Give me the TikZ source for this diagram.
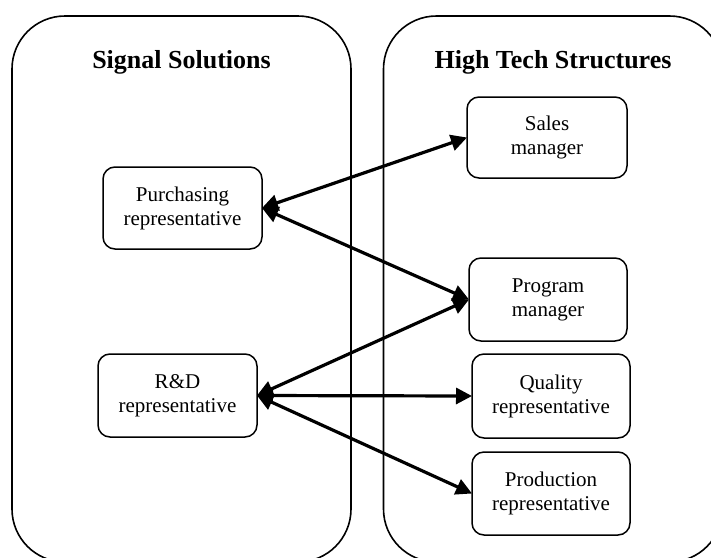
\documentclass[tikz,border=0pt]{standalone}
\usepackage{fontspec}
\setmainfont{Liberation Serif}
\usetikzlibrary{arrows.meta}

\tikzset{
  company/.style={draw, line width=1.6pt, rounded corners=53pt,
    inner sep=0pt, outer sep=0pt, minimum width=339pt, minimum height=546pt},
  companytitle/.style={font=\fontsize{26}{30}\selectfont\bfseries, anchor=base, inner sep=0pt},
  rolebox/.style={draw, line width=1.5pt, rounded corners=12pt, inner sep=0pt, outer sep=0pt,
    align=center, font=\fontsize{21}{24}\selectfont},
  link/.style={line width=3.2pt, {Triangle[length=16pt,width=16pt]}-{Triangle[length=16pt,width=16pt]}}
}

\begin{document}
\begin{tikzpicture}[x=1pt, y=-1pt]
  \useasboundingbox (0,0) rectangle (711,557);
  \clip (0,0) rectangle (711,557);

  % the two companies
  \node[company] (ss) at (181.5,289) {};
  \node[company] (hts) at (553,289) {};
  \node[companytitle] (sstitle) at (181.5,68) {Signal Solutions};
  \node[companytitle] (htstitle) at (553,68) {High Tech Structures};

  % Signal Solutions roles
  \node[rolebox, minimum width=159pt, minimum height=82pt] (pur) at (182.5,208) {Purchasing\\representative};
  \node[rolebox, minimum width=159pt, minimum height=83pt] (rd) at (177.5,395.5) {R\&D\\representative};

  % High Tech Structures roles
  \node[rolebox, minimum width=160pt, minimum height=81pt] (sales) at (547,137.5) {Sales\\manager};
  \node[rolebox, minimum width=158pt, minimum height=83pt] (prog) at (548,299.5) {Program\\manager};
  \node[rolebox, minimum width=158pt, minimum height=84pt] (qual) at (551,396) {Quality\\representative};
  \node[rolebox, minimum width=158pt, minimum height=83pt] (prod) at (551,493.5) {Production\\representative};

  % contacts between the companies
  \draw[link] (pur.east) -- (sales.west);
  \draw[link] (pur.east) -- (prog.west);
  \draw[link] (rd.east) -- (prog.west);
  \draw[link] (rd.east) -- (qual.west);
  \draw[link] (rd.east) -- (prod.west);
\end{tikzpicture}
\end{document}
